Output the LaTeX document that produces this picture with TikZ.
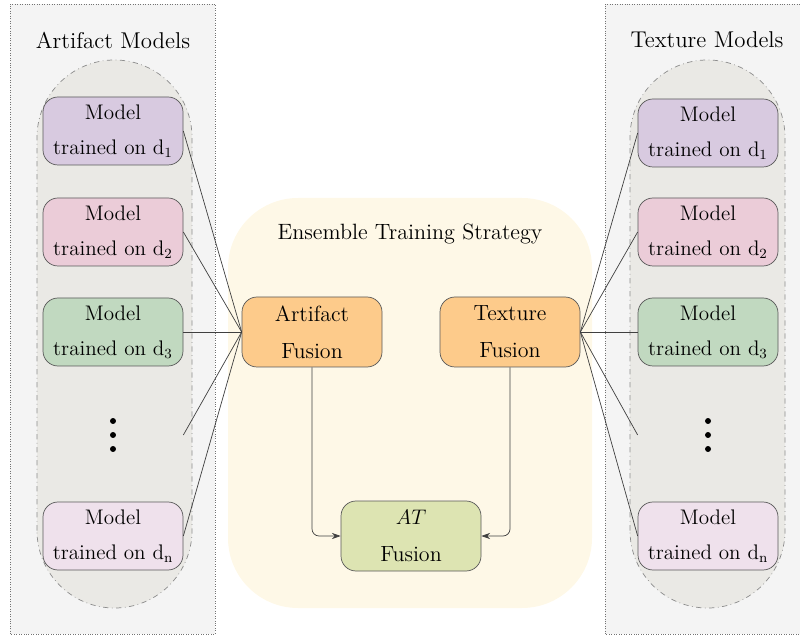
\documentclass[tikz,border=0pt]{standalone}
\usetikzlibrary{arrows.meta}

\definecolor{panelbg}{HTML}{F4F4F4}
\definecolor{pillbg}{HTML}{EAE9E5}
\definecolor{stratbg}{HTML}{FEF8E7}
\definecolor{dA}{HTML}{D8CAE0}
\definecolor{dB}{HTML}{EBCCD8}
\definecolor{dC}{HTML}{C1D9C0}
\definecolor{dN}{HTML}{EFE1EC}
\definecolor{fuse}{HTML}{FDCB8B}
\definecolor{atfuse}{HTML}{DDE4B2}

\begin{document}
\begin{tikzpicture}[
    model/.style={draw=black!65, rounded corners=0.3cm, minimum width=2.8cm,
      minimum height=1.36cm, align=center, font=\large, inner sep=1pt},
    fusion/.style={model, minimum height=1.4cm, font=\fontsize{12.5}{15}\selectfont},
    dotsnode/.style={minimum width=2.8cm, minimum height=0.8cm, inner sep=0pt}
  ]
  \useasboundingbox (0,0) rectangle (16,12.76);

  % side panels
  \draw[black!55, densely dotted, fill=panelbg] (0.2,0.08) rectangle (4.3,12.68);
  \draw[black!55, densely dotted, fill=panelbg] (12.1,0.08) rectangle (16.3,12.68);
  \draw[black!45, dash dot, fill=pillbg, rounded corners=1.55cm] (0.74,0.6) rectangle (3.84,11.56);
  \draw[black!45, dash dot, fill=pillbg, rounded corners=1.55cm] (12.6,0.6) rectangle (15.7,11.56);
  \fill[stratbg, rounded corners=1.4cm] (4.56,0.6) rectangle (11.84,8.8);

  \node[font=\fontsize{13}{15}\selectfont] (titleA) at (2.26,11.96) {Artifact Models};
  \node[font=\fontsize{13}{15}\selectfont] (titleT) at (14.14,11.96) {Texture Models};
  \node[font=\fontsize{12.6}{15}\selectfont] (titleE) at (8.2,8.08) {Ensemble Training Strategy};

  % artifact models
  \node[model, fill=dA] (a1) at (2.26,10.14) {Model\\[6pt]trained on d\textsubscript{1}};
  \node[model, fill=dB] (a2) at (2.26,8.12) {Model\\[6pt]trained on d\textsubscript{2}};
  \node[model, fill=dC] (a3) at (2.26,6.12) {Model\\[6pt]trained on d\textsubscript{3}};
  \node[dotsnode] (ad) at (2.26,4.06) {};
  \node[model, fill=dN] (an) at (2.26,2.04) {Model\\[6pt]trained on d\textsubscript{n}};

  % texture models
  \node[model, fill=dA] (t1) at (14.16,10.1) {Model\\[6pt]trained on d\textsubscript{1}};
  \node[model, fill=dB] (t2) at (14.16,8.12) {Model\\[6pt]trained on d\textsubscript{2}};
  \node[model, fill=dC] (t3) at (14.16,6.12) {Model\\[6pt]trained on d\textsubscript{3}};
  \node[dotsnode] (td) at (14.16,4.06) {};
  \node[model, fill=dN] (tn) at (14.16,2.04) {Model\\[6pt]trained on d\textsubscript{n}};

  \foreach \d in {ad,td} {
    \fill (\d.center) circle (1.7pt);
    \fill ([yshift=0.28cm]\d.center) circle (1.7pt);
    \fill ([yshift=-0.28cm]\d.center) circle (1.7pt);
  }

  % fusion
  \node[fusion, fill=fuse] (af) at (6.24,6.12) {Artifact\\[6pt]Fusion};
  \node[fusion, fill=fuse] (tf) at (10.2,6.12) {Texture\\[6pt]Fusion};
  \node[fusion, fill=atfuse] (at) at (8.22,2.04) {$AT$\\[6pt]Fusion};

  \begin{scope}[black!75, line width=0.4pt]
    \draw (a1.east) -- (af.west);
    \draw (a2.east) -- (af.west);
    \draw (a3.east) -- (af.west);
    \draw (ad.east) -- (af.west);
    \draw (an.east) -- (af.west);
    \draw (tf.east) -- (t1.west);
    \draw (tf.east) -- (t2.west);
    \draw (tf.east) -- (t3.west);
    \draw (tf.east) -- (td.west);
    \draw (tf.east) -- (tn.west);
  \end{scope}

  \begin{scope}[black!75, line width=0.4pt, -{Stealth[length=5pt,width=3.5pt]}, rounded corners=4pt]
    \draw (af.south) |- (at.west);
    \draw (tf.south) |- (at.east);
  \end{scope}
\end{tikzpicture}
\end{document}
